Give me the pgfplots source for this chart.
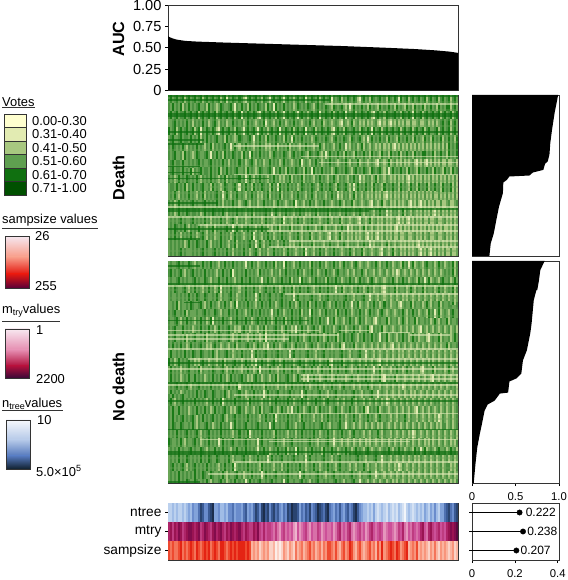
\documentclass[border=0pt]{standalone}
\usepackage{pgfplots}
\usepackage{pgfplotstable}
\pgfplotsset{compat=1.18}
\usepackage{fontspec}
\setmainfont{Liberation Sans}
\newcommand{\dc}[2]{\definecolor{#1}{HTML}{#2}}
\dc{vA}{FFFFCF}\dc{vB}{E2EBB2}\dc{vC}{A8C880}\dc{vD}{5F9F50}\dc{vE}{107010}\dc{vF}{005000}
\dc{fr}{333333}\dc{hb}{6AA557}\dc{hd}{4A9140}\dc{he}{1A7A18}\dc{lts}{E0EAB8}\dc{dks}{0E6E10}
\dc{na}{F2F5FA}\dc{nb}{D4E1F3}\dc{nc}{BCD1EE}\dc{nd}{A0BCE6}\dc{ne}{82A3DA}\dc{nf}{6A8CCC}\dc{ng}{5072B2}\dc{nh}{3A5A94}\dc{ni}{2A4470}\dc{nj}{1C2E4C}
\dc{ma}{F3D2E0}\dc{mb}{EDB4CE}\dc{mc}{E596BC}\dc{md}{D870A8}\dc{me}{CC5098}\dc{mf}{BE3C80}\dc{mg}{AE2468}\dc{mh}{9A1452}\dc{mi}{820C4C}\dc{mj}{5A0A40}
\dc{sa}{FCEDE8}\dc{sb}{FBD2C6}\dc{sc}{FAB4A0}\dc{sd}{F8957C}\dc{se}{F4745A}\dc{sf}{EE4A30}\dc{sg}{E42414}\dc{sh}{C81414}\dc{si}{98082C}\dc{sj}{6A0030}
\dc{L1}{F6E6EE}\dc{L2}{F89C88}\dc{L3}{E41810}\dc{L4}{5A0038}
\dc{M1}{F8E8F0}\dc{M2}{E58CB0}\dc{M3}{B0103C}\dc{M4}{3A0838}
\dc{N1}{F6F8FC}\dc{N2}{B4C8E8}\dc{N3}{5478BC}\dc{N4}{10202E}
\pgfplotsset{
 colormap={votes}{color=(vB) color=(vC) color=(hb) color=(hd) color=(he)},
 colormap={ntree}{color=(na) color=(nb) color=(nc) color=(nd) color=(ne) color=(nf) color=(ng) color=(nh) color=(ni) color=(nj)},
 colormap={mtry}{color=(ma) color=(mb) color=(mc) color=(md) color=(me) color=(mf) color=(mg) color=(mh) color=(mi) color=(mj)},
 colormap={samp}{color=(sa) color=(sb) color=(sc) color=(sd) color=(se) color=(sf) color=(sg) color=(sh) color=(si) color=(sj)},
 pane/.style={scale only axis,axis line style={color=fr,line width=.8pt},tick style={color=black,line width=.6pt},
   tick align=outside,major tick length=3pt,xtick=\empty,ytick=\empty,ytick pos=left,
   /pgf/number format/assume math mode=true,clip=true},
 heat/.style={pane,width=290pt,xmin=0,xmax=144,y dir=reverse,ymin=0,unbounded coords=jump,colormap name=votes,point meta min=0,point meta max=4},
 band/.style={mesh,shader=flat corner,point meta=explicit,line width=#1},
 ltr/.style={color=lts,opacity=.6,line width=1.7pt},
 dkr/.style={color=dks,opacity=.7,line width=1.7pt},
 mdr/.style={color=hb,opacity=.35,line width=2pt},
}
% y, column, column shift: one band of a heat map (8pt or 8.1pt tall)
\newcommand{\dband}[3]{\addplot[band=8.3pt] table[x expr=\coordindex+#3,y expr=#1,meta=#2] {\griddata};}
\newcommand{\nband}[3]{\addplot[band=8.4pt] table[x expr=\coordindex+#3,y expr=#1,meta=#2] {\griddata};}
\begin{document}
\pgfplotstableread{
n m s a b c d e f g h i
2 6 5 3 2 3 2 2 3 2 3 2
2 7 4 4 3 2 3 3 2 4 2 3
3 5 5 2 4 3 2 2 3 2 4 2
2 7 4 3 2 1 3 2 4 3 2 3
3 6 4 4 3 2 2 3 2 2 3 2
2 8 5 2 3 4 3 4 2 3 2 4
2 7 6 3 2 2 4 2 3 1 3 2
3 5 4 4 4 3 2 3 2 2 4 3
2 6 5 1 2 2 3 2 4 3 2 2
3 7 4 3 3 4 2 2 1 2 3 4
4 8 5 4 2 3 2 4 3 4 2 3
3 8 6 2 4 2 3 3 2 2 3 2
5 7 5 3 1 3 4 2 2 3 4 2
4 6 4 4 3 2 2 1 3 2 2 4
4 7 6 2 2 4 3 3 2 4 1 3
6 8 5 3 4 2 2 2 4 2 3 2
8 5 4 4 2 1 3 2 3 3 2 2
7 6 5 1 3 3 2 4 2 1 3 3
5 8 6 3 2 2 4 2 2 2 4 2
5 7 5 4 3 3 2 3 3 4 2 4
7 6 6 2 4 2 3 2 4 2 3 2
8 5 4 3 2 4 1 4 2 3 2 1
9 7 5 4 2 2 3 2 1 2 3 3
4 8 6 2 3 3 2 3 3 3 2 2
4 6 5 3 1 2 3 2 2 4 4 2
5 7 4 4 4 1 2 1 4 2 2 3
3 8 6 1 2 3 4 3 2 3 3 4
3 6 6 3 3 2 2 2 3 1 2 2
4 5 5 4 2 4 3 4 2 2 3 3
3 7 4 0 1 1 1 2 1 1 2 1
5 6 5 3 2 3 2 3 3 3 1 2
5 8 6 2 4 2 3 2 2 4 3 3
6 7 5 4 3 3 4 4 4 2 2 2
4 6 6 3 2 2 2 2 2 3 4 4
5 7 5 2 2 3 1 3 3 1 2 2
5 8 6 4 3 4 3 2 1 2 3 3
4 6 6 3 4 2 2 3 2 3 2 2
6 5 6 1 2 3 3 2 4 2 4 3
7 7 5 0 0 0 1 0 0 1 0 0
4 6 6 3 3 2 2 3 3 3 2 2
5 5 5 4 2 4 2 2 2 2 3 4
4 5 2 2 4 2 4 4 3 4 2 2
6 7 3 3 2 1 2 2 2 1 3 3
8 6 2 4 3 3 3 3 4 3 2 2
7 8 3 2 1 2 2 1 2 2 4 3
5 5 1 3 4 4 3 2 3 2 2 4
8 4 2 1 2 2 1 3 2 3 3 2
9 6 3 4 3 3 2 2 1 4 2 2
7 4 2 3 2 2 4 4 3 2 3 3
8 5 3 2 4 1 2 2 2 3 2 2
5 5 1 0 3 3 3 3 4 1 1 3
7 4 1 3 2 2 2 2 2 2 4 4
8 3 2 4 3 4 1 4 3 4 2 2
6 5 0 2 1 2 2 1 2 2 3 3
7 3 1 3 4 3 3 3 4 3 2 2
5 2 0 4 2 1 2 2 2 1 3 2
4 4 1 2 3 2 4 3 3 2 2 3
6 5 3 0 0 1 0 0 1 0 1 0
5 3 2 3 4 3 2 4 2 3 3 3
8 4 1 4 2 2 3 2 3 2 2 4
7 3 3 2 3 4 2 3 4 4 3 2
9 4 2 3 2 1 1 2 2 2 1 2
8 2 1 1 4 3 3 1 3 3 3 3
8 1 4 3 2 2 2 3 2 1 2 2
7 4 2 4 3 3 4 2 4 2 4 2
4 2 3 2 2 2 2 4 2 3 2 3
6 3 4 3 3 4 3 2 3 4 3 4
5 4 2 4 1 1 1 3 1 2 2 2
7 5 3 0 2 3 2 2 2 3 3 3
6 3 4 3 4 2 3 3 4 1 2 2
8 2 5 2 3 3 2 1 2 2 4 1
5 4 3 4 2 2 4 4 3 4 2 3
6 3 4 3 3 1 2 2 2 2 3 2
7 3 2 2 2 3 3 3 4 3 1 3
9 5 3 4 4 2 2 2 1 2 2 4
8 4 4 1 3 4 1 4 3 3 3 2
7 2 2 3 2 2 2 2 2 1 2 2
6 3 4 4 1 3 3 3 4 2 4 3
8 4 3 2 3 2 2 1 2 3 2 2
9 3 5 3 4 1 4 2 3 4 3 3
6 3 5 4 2 3 2 3 2 2 1 2
5 4 4 0 3 2 1 2 4 3 2 2
4 2 3 3 2 4 3 4 3 1 3 3
6 3 5 2 4 2 2 2 2 2 2 4
5 5 3 3 3 1 2 3 1 3 4 2
7 6 2 4 2 3 4 1 3 2 2 3
5 3 4 1 1 2 1 2 2 4 3 2
4 4 5 3 4 3 2 4 4 2 2 1
6 3 3 2 3 2 3 2 2 3 1 3
7 5 4 4 2 1 2 3 3 1 3 2
5 6 6 3 3 3 1 2 2 2 4 2
6 3 5 2 4 2 2 1 4 3 2 3
8 2 3 4 2 4 3 3 2 2 2 4
9 3 2 3 1 2 2 4 3 4 3 2
7 4 4 1 3 3 1 2 2 1 2 2
5 5 5 0 0 0 0 1 0 0 1 0
4 3 3 3 2 2 3 2 3 3 3 2
3 4 2 4 4 1 2 3 2 2 2 3
3 2 3 2 2 3 1 2 4 3 1 2
2 3 4 3 3 2 2 1 1 2 3 1
3 5 5 1 2 3 4 2 2 4 2 3
2 6 3 4 4 1 1 3 3 1 2 2
4 4 4 3 2 2 2 2 2 2 4 1
2 3 2 2 3 4 3 4 1 3 2 2
1 4 5 3 1 1 1 2 3 2 1 3
2 5 3 4 4 3 2 1 2 1 3 1
3 4 6 2 2 2 1 3 4 2 2 2
2 2 3 3 3 1 3 2 2 3 2 3
1 3 4 1 2 3 1 4 3 2 1 1
3 4 5 4 1 2 2 2 1 1 3 2
2 4 6 3 4 1 1 3 2 3 2 3
1 3 5 2 2 2 2 1 4 2 1 1
2 2 4 4 3 1 3 2 2 1 2 2
1 3 6 3 2 3 1 3 3 3 3 1
3 5 5 0 4 1 0 2 1 2 1 3
2 4 3 4 2 2 2 1 2 1 2 2
1 6 4 2 3 1 1 4 2 3 3 1
0 3 5 3 1 3 3 2 3 2 1 2
2 2 6 4 4 1 1 3 1 1 2 3
3 4 2 1 2 0 0 0 0 0 0 1
2 3 3 3 3 2 2 2 2 3 1 2
1 5 4 4 2 1 1 4 3 2 3 3
2 4 3 2 1 3 3 1 2 1 2 1
3 3 5 3 4 1 1 2 2 3 1 2
2 4 2 4 2 2 2 3 4 2 2 3
3 6 3 2 3 1 1 2 1 1 3 1
2 7 2 3 1 3 3 1 3 3 1 2
4 4 3 4 4 1 1 3 2 2 2 3
3 3 2 1 2 2 1 4 2 1 3 1
2 6 1 3 3 1 3 2 3 2 1 2
4 7 3 4 2 3 1 2 1 3 2 3
3 5 2 2 4 1 1 3 2 1 3 1
5 4 4 3 1 2 2 1 4 2 1 2
3 5 2 4 3 1 3 2 2 3 2 3
2 6 1 1 2 3 1 4 1 1 3 1
4 4 3 3 4 1 1 2 3 2 1 2
4 5 2 4 2 2 2 3 2 3 2 3
6 4 3 2 3 1 3 1 2 1 3 1
7 6 2 3 1 3 1 2 4 2 1 2
8 7 1 4 4 1 2 3 1 3 2 3
6 8 2 1 2 2 1 2 3 1 3 1
5 7 3 3 3 1 3 4 2 2 1 2
7 8 1 4 2 3 1 1 2 3 2 1
8 9 2 2 4 1 2 3 3 1 3 3
9 8 3 3 1 2 1 2 1 2 1 1
}\griddata%
\begin{tikzpicture}[x=1pt,y=1pt]
\path[use as bounding box] (0,0) rectangle (567,580);
% ---------- AUC
\begin{axis}[pane,at={(168pt,489.5pt)},width=290pt,height=85.5pt,xmin=0,xmax=1,ymin=0,ymax=1,
  ytick={0,0.25,0.5,0.75,1},yticklabels={0,0.25,0.50,0.75,1.00},tick label style={font=\fontsize{14.6}{15}\selectfont}]
\addplot[fill=black,draw=none] coordinates {(0,0)(0,.635)(.005,.625)(.015,.61)(.03,.595)(.06,.58)(.1,.572)(.2,.56)(.3,.55)(.45,.535)(.6,.52)(.75,.50)(.85,.485)(.92,.47)(.97,.455)(1,.44)(1,0)} -- cycle;
\end{axis}
% ---------- Death heat map
\begin{axis}[heat,at={(168pt,324pt)},height=161pt,ymax=80]
\addplot[band=40.3pt] table[x expr=\coordindex,y expr=10,meta=a] {\griddata};
\addplot[band=40.3pt] table[x expr=\coordindex,y expr=30,meta=b] {\griddata};
\addplot[band=40.3pt] table[x expr=\coordindex,y expr=50,meta=c] {\griddata};
\addplot[band=40.3pt] table[x expr=\coordindex,y expr=70,meta=d] {\griddata};
\dband{2}{a}{0}\dband{6}{b}{-5}\dband{10}{a}{7}\dband{14}{d}{-9}\dband{18}{a}{-13}
\dband{22}{b}{4}\dband{26}{c}{-7}\dband{30}{b}{-17}\dband{34}{d}{9}\dband{38}{b}{14}
\dband{42}{c}{0}\dband{46}{b}{-3}\dband{50}{c}{-11}\dband{54}{d}{6}\dband{58}{c}{13}
\dband{62}{d}{0}\dband{66}{c}{-6}\dband{70}{d}{-15}\dband{74}{c}{5}\dband{78}{d}{11}
\addplot[mdr] coordinates {(0,3.5)(144,3.5)(nan,nan)(60,7.5)(144,7.5)(nan,nan)(0,12.5)(144,12.5)(nan,nan)(30,15.5)(144,15.5)(nan,nan)(60,20.5)(144,20.5)(nan,nan)(30,23.5)(144,23.5)(nan,nan)(0,27.5)(144,27.5)(nan,nan)(40,31.5)(144,31.5)(nan,nan)(0,35.5)(144,35.5)(nan,nan)(0,42.5)(144,42.5)(nan,nan)(20,45.5)(144,45.5)(nan,nan)(0,48.5)(144,48.5)(nan,nan)(0,51.5)(144,51.5)(nan,nan)(30,58.5)(144,58.5)(nan,nan)(0,62.5)(144,62.5)(nan,nan)(0,69.5)(144,69.5)(nan,nan)(30,73.5)(144,73.5)(nan,nan)(0,77.5)(144,77.5)};
\addplot[ltr] coordinates {(78,4.5)(144,4.5)(nan,nan)(33,25.5)(75,25.5)(nan,nan)(66,30.5)(144,30.5)(nan,nan)(75,33.5)(144,33.5)(nan,nan)(33,39.5)(144,39.5)(nan,nan)(0,55.5)(144,55.5)(nan,nan)(0,60.5)(144,60.5)(nan,nan)(15,64.5)(144,64.5)(nan,nan)(50,67.5)(144,67.5)(nan,nan)(60,72.5)(144,72.5)(nan,nan)(50,75.5)(144,75.5)};
\addplot[dkr] coordinates {(0,.5)(144,.5)(nan,nan)(0,2.5)(80,2.5)(nan,nan)(0,9.5)(144,9.5)(nan,nan)(0,10.5)(144,10.5)(nan,nan)(0,18.5)(144,18.5)(nan,nan)(0,22.5)(18,22.5)(nan,nan)(0,24.5)(18,24.5)(nan,nan)(0,35.5)(16,35.5)(nan,nan)(0,38.5)(16,38.5)(nan,nan)(0,41.5)(50,41.5)(nan,nan)(0,53.5)(25,53.5)(nan,nan)(0,56.5)(144,56.5)(nan,nan)(0,57.5)(100,57.5)(nan,nan)(0,66.5)(50,66.5)(nan,nan)(0,71.5)(16,71.5)};
\end{axis}
% ---------- No death heat map
\begin{axis}[heat,at={(168pt,97pt)},height=222pt,ymax=110]
\addplot[band=44.6pt] table[x expr=\coordindex,y expr=11,meta=e] {\griddata};
\addplot[band=44.6pt] table[x expr=\coordindex,y expr=33,meta=f] {\griddata};
\addplot[band=44.6pt] table[x expr=\coordindex,y expr=55,meta=g] {\griddata};
\addplot[band=44.6pt] table[x expr=\coordindex,y expr=77,meta=h] {\griddata};
\addplot[band=44.6pt] table[x expr=\coordindex,y expr=99,meta=i] {\griddata};
\nband{2}{e}{0}\nband{6}{h}{-6}\nband{10}{e}{8}\nband{14}{f}{-12}\nband{18}{i}{5}
\nband{22}{f}{-4}\nband{26}{e}{13}\nband{30}{f}{-16}\nband{34}{g}{6}\nband{38}{f}{10}
\nband{42}{g}{-8}\nband{46}{i}{3}\nband{50}{g}{-14}\nband{54}{f}{7}\nband{58}{g}{12}
\nband{62}{h}{-3}\nband{66}{i}{9}\nband{70}{h}{-11}\nband{74}{g}{4}\nband{78}{h}{15}
\nband{82}{i}{-7}\nband{86}{h}{2}\nband{90}{i}{-13}\nband{94}{e}{6}\nband{98}{i}{11}
\nband{102}{h}{-5}\nband{106}{i}{8}
\addplot[mdr] coordinates {(0,3.5)(144,3.5)(nan,nan)(40,7.5)(144,7.5)(nan,nan)(0,14.5)(144,14.5)(nan,nan)(0,18.5)(144,18.5)(nan,nan)(20,23.5)(144,23.5)(nan,nan)(0,27.5)(144,27.5)(nan,nan)(0,31.5)(144,31.5)(nan,nan)(0,40.5)(144,40.5)(nan,nan)(30,45.5)(144,45.5)(nan,nan)(0,55.5)(144,55.5)(nan,nan)(0,63.5)(144,63.5)(nan,nan)(0,71.5)(144,71.5)(nan,nan)(30,78.5)(144,78.5)(nan,nan)(0,86.5)(144,86.5)(nan,nan)(0,91.5)(144,91.5)(nan,nan)(0,97.5)(144,97.5)(nan,nan)(0,102.5)(144,102.5)(nan,nan)(40,107.5)(144,107.5)};
\addplot[ltr] coordinates {(0,12.5)(144,12.5)(nan,nan)(58,16.5)(144,16.5)(nan,nan)(0,34.5)(75,34.5)(nan,nan)(0,36.5)(85,36.5)(nan,nan)(85,34.5)(100,34.5)(nan,nan)(105,35.5)(120,35.5)(nan,nan)(120,36.5)(140,36.5)(nan,nan)(0,38.5)(60,38.5)(nan,nan)(0,43.5)(144,43.5)(nan,nan)(10,48.5)(144,48.5)(nan,nan)(0,53.5)(144,53.5)(nan,nan)(66,56.5)(144,56.5)(nan,nan)(66,58.5)(144,58.5)(nan,nan)(0,61.5)(144,61.5)(nan,nan)(33,66.5)(144,66.5)(nan,nan)(50,75.5)(144,75.5)(nan,nan)(16,88.5)(144,88.5)(nan,nan)(50,89.5)(120,89.5)(nan,nan)(33,99.5)(144,99.5)(nan,nan)(20,105.5)(144,105.5)};
\addplot[dkr] coordinates {(0,2.5)(16,2.5)(nan,nan)(0,11.5)(144,11.5)(nan,nan)(8,20.5)(16,20.5)(nan,nan)(0,29.5)(70,29.5)(nan,nan)(0,50.5)(144,50.5)(nan,nan)(0,60.5)(144,60.5)(nan,nan)(0,69.5)(144,69.5)(nan,nan)(0,83.5)(144,83.5)(nan,nan)(0,94.5)(144,94.5)(nan,nan)(0,95.5)(50,95.5)(nan,nan)(90,95.5)(144,95.5)(nan,nan)(0,109.5)(16,109.5)};
\end{axis}
% ---------- parameter strips
\begin{axis}[pane,at={(168pt,20pt)},width=290pt,height=57pt,xmin=0,xmax=144,ymin=0,ymax=3,y dir=reverse,
  ytick={0.5,1.5,2.5},yticklabels={ntree,mtry,sampsize},tick label style={font=\fontsize{13.7}{14}\selectfont},
  point meta min=0,point meta max=9]
\addplot[band=19pt,colormap name=ntree] table[x expr=\coordindex,y expr=0.5,meta=n] {\griddata};
\addplot[band=19pt,colormap name=mtry] table[x expr=\coordindex,y expr=1.5,meta=m] {\griddata};
\addplot[band=19pt,colormap name=samp] table[x expr=\coordindex,y expr=2.5,meta=s] {\griddata};
\end{axis}
% ---------- Death bars
\begin{axis}[pane,at={(472pt,324pt)},width=87pt,height=161pt,xmin=0,xmax=1,ymin=0,ymax=80,y dir=reverse]
\addplot[fill=black,draw=none] coordinates {(0,0)(.99,0)(.95,8.8)(.92,17.2)(.90,23.8)(.89,29.7)(.87,33)(.84,34.2)(.82,37.2)(.70,38.5)(.66,40)(.43,40.5)(.40,42.2)(.36,43.5)(.355,48.8)(.31,55.5)(.28,62)(.25,68.8)(.215,73.8)(.20,80)(0,80)} -- cycle;
\end{axis}
% ---------- No death bars
\begin{axis}[pane,at={(472pt,97pt)},width=87pt,height=222pt,xmin=0,xmax=1,ymin=0,ymax=110,y dir=reverse,
  xtick={0,.5,1},xticklabels={0,0.5,1.0},tick label style={font=\fontsize{11.3}{12}\selectfont},xtick pos=bottom,xticklabel style={yshift=-3pt}]
\addplot[fill=black,draw=none] coordinates {(0,0)(.835,0)(.785,4.5)(.77,9.5)(.75,14.4)(.74,14.4)(.71,19.4)(.685,30.9)(.67,35.8)(.63,44.3)(.585,49.3)(.567,55.7)(.51,58.2)(.43,59.7)(.415,65.2)(.32,65.7)(.26,69.2)(.18,71.1)(.145,74.1)(.115,80.6)(.09,85.6)(.06,92.5)(.04,100.5)(.02,110)(0,110)} -- cycle;
\end{axis}
% ---------- Lollipops
\begin{axis}[pane,at={(472pt,20pt)},width=87pt,height=57pt,xmin=0,xmax=0.406,ymin=0,ymax=3,y dir=reverse,unbounded coords=jump,
  ytick={0.5,1.5,2.5},yticklabels={},xtick={0,.2,.4},xticklabels={0,0.2,0.4},tick label style={font=\fontsize{11.3}{12}\selectfont},xtick pos=bottom,xticklabel style={yshift=-3pt}]
\addplot[black,line width=1.8pt] coordinates {(0,.5)(.222,.5)(nan,nan)(0,1.5)(.238,1.5)(nan,nan)(0,2.5)(.207,2.5)};
\addplot[only marks,black,mark=*,mark size=2.7pt] coordinates {(.222,.5)(.238,1.5)(.207,2.5)};
\node[anchor=west,font=\fontsize{12}{12}\selectfont,inner sep=0pt] at (axis cs:.25,.5) {0.222};
\node[anchor=west,font=\fontsize{12}{12}\selectfont,inner sep=0pt] at (axis cs:.257,1.5) {0.238};
\node[anchor=west,font=\fontsize{12}{12}\selectfont,inner sep=0pt] at (axis cs:.226,2.5) {0.207};
\end{axis}
% ---------- row titles
\begin{scope}[every node/.style={font=\bfseries\fontsize{16.2}{17}\selectfont,rotate=90,inner sep=0pt}]
\node at (118.5,541) {AUC};
\node at (118.5,402) {Death};
\node at (118.5,193) {No death};
\end{scope}
% ---------- legends
\begin{scope}[every node/.style={font=\fontsize{12.9}{13}\selectfont,anchor=west,inner sep=0pt}]
\node at (2,478) {Votes};
\draw[fr,line width=.8pt] (2,473) -- (35,473);
\foreach \c/\t [count=\i from 0] in {vA/0.00-0.30,vB/0.31-0.40,vC/0.41-0.50,vD/0.51-0.60,vE/0.61-0.70,vF/0.71-1.00}{
  \path[fill=\c,draw=fr,line width=.7pt] (4,465.7-\i*13.5) rectangle (26.7,452.2-\i*13.5);
  \node at (32,459-\i*13.5) {\t};
}
\node at (2,359.5) {sampsize values};
\draw[fr,line width=.8pt] (2,352) -- (98,352);
\shade[top color=L1,bottom color=L2] (5,343.5) rectangle (29,323);
\shade[top color=L2,bottom color=L3] (5,323) rectangle (29,306);
\shade[top color=L3,bottom color=L4] (5,306) rectangle (29,292);
\draw[fr,line width=.8pt] (5,343.5) rectangle (29,292);
\node at (35,343.5) {26};
\node at (35,294) {255};
\node at (2,269) {m\raisebox{-2.5pt}{\fontsize{9}{9}\selectfont try}values};
\draw[fr,line width=.8pt] (2,259) -- (60,259);
\shade[top color=M1,bottom color=M2] (5,251) rectangle (29,230);
\shade[top color=M2,bottom color=M3] (5,230) rectangle (29,214);
\shade[top color=M3,bottom color=M4] (5,214) rectangle (29,202);
\draw[fr,line width=.8pt] (5,251) rectangle (29,202);
\node at (36,250) {1};
\node at (36,201) {2200};
\node at (2,176) {n\raisebox{-2.5pt}{\fontsize{9}{9}\selectfont tree}values};
\draw[fr,line width=.8pt] (2,169.5) -- (63,169.5);
\shade[top color=N1,bottom color=N2] (6,160) rectangle (30,140);
\shade[top color=N2,bottom color=N3] (6,140) rectangle (30,124);
\shade[top color=N3,bottom color=N4] (6,124) rectangle (30,111);
\draw[fr,line width=.8pt] (6,160) rectangle (30,111);
\node at (37,160) {10};
\node at (36,109) {5.0×10\raisebox{4.5pt}{\fontsize{9}{9}\selectfont 5}};
\end{scope}
\end{tikzpicture}
\end{document}
